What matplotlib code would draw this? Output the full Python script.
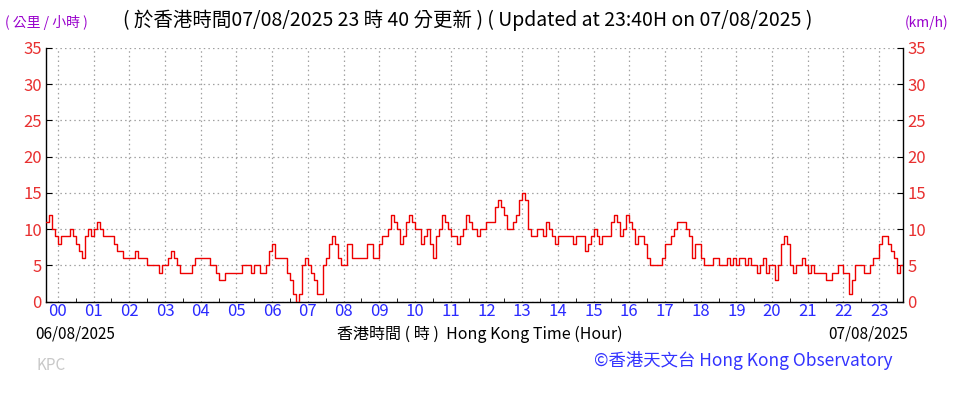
import numpy as np
import matplotlib
matplotlib.use("Agg")
import matplotlib.pyplot as plt
from matplotlib.ticker import MultipleLocator

# 10-minute mean wind speed (km/h), sampled every 5 minutes, from 23:40 (06/08) to 23:40 (07/08)
start_minutes = -20
step_minutes = 5
pre = [11, 12, 10, 9]
h00 = [8, 9, 9, 9, 10, 9, 8, 7, 6, 9, 10, 9]
h01 = [10, 11, 10, 9, 9, 9, 9, 8, 7, 7, 6, 6]
h02 = [6, 6, 7, 6, 6, 6, 5, 5, 5, 5, 4, 5]
h03 = [5, 6, 7, 6, 5, 4, 4, 4, 4, 5, 6, 6]
h04 = [6, 6, 6, 5, 5, 4, 3, 3, 4, 4, 4, 4]
h05 = [4, 4, 5, 5, 5, 4, 5, 5, 4, 4, 5, 7]
h06 = [8, 6, 6, 6, 6, 4, 3, 1, 0, 1, 5, 6]
h07 = [5, 4, 3, 1, 1, 5, 6, 8, 9, 8, 6, 5]
h08 = [5, 8, 8, 6, 6, 6, 6, 6, 8, 8, 6, 6]
h09 = [8, 9, 9, 10, 12, 11, 10, 8, 9, 11, 12, 11]
h10 = [10, 10, 8, 9, 10, 8, 6, 9, 10, 12, 11, 10]
h11 = [9, 9, 8, 9, 10, 12, 11, 10, 10, 9, 10, 10]
h12 = [11, 11, 11, 13, 14, 13, 12, 10, 10, 11, 12, 14]
h13 = [15, 14, 10, 9, 9, 10, 10, 9, 11, 10, 9, 8]
h14 = [9, 9, 9, 9, 9, 8, 9, 9, 9, 7, 8, 9]
h15 = [10, 9, 8, 9, 9, 9, 11, 12, 11, 9, 10, 12]
h16 = [11, 10, 8, 9, 9, 8, 6, 5, 5, 5, 5, 6]
h17 = [8, 8, 9, 10, 11, 11, 11, 10, 9, 6, 8, 8]
h18 = [6, 5, 5, 5, 6, 6, 5, 5, 5, 6, 5, 6]
h19 = [5, 6, 6, 5, 6, 5, 5, 4, 5, 6, 4, 5]
h20 = [5, 3, 5, 8, 9, 8, 5, 4, 5, 5, 6, 5]
h21 = [4, 5, 4, 4, 4, 4, 3, 3, 4, 4, 5, 5]
h22 = [4, 4, 1, 3, 5, 5, 5, 4, 4, 5, 6, 6]
h23 = [8, 9, 9, 8, 7, 6, 4, 5, 5]

speeds = np.array(pre + h00 + h01 + h02 + h03 + h04 + h05 + h06 + h07 + h08 + h09 + h10 + h11
                  + h12 + h13 + h14 + h15 + h16 + h17 + h18 + h19 + h20 + h21 + h22 + h23, dtype=float)
hours = (start_minutes + step_minutes * np.arange(len(speeds))) / 60.0

hour_labels = [f"{h:02d}" for h in range(24)]
y_ticks = [0, 5, 10, 15, 20, 25, 30, 35]

FAM = ["Noto Sans CJK TC", "DejaVu Sans"]
plt.rcParams["font.family"] = FAM

fig = plt.figure(figsize=(9.75, 3.95), dpi=100)
ax = fig.add_axes([46 / 975, 1 - 301.5 / 395, (903 - 46) / 975, (301.5 - 48) / 395])

ax.plot(hours, speeds, color="#ee0000", lw=1.0, drawstyle="steps-post", zorder=3)

ax.set_xlim(-20 / 60, 23 + 40 / 60)
ax.set_ylim(0, 35)

ax.set_xticks(range(24))
ax.set_xticklabels(hour_labels)
ax.xaxis.set_minor_locator(MultipleLocator(0.5))
ax.set_yticks(y_ticks)
ax.set_yticklabels([str(v) for v in y_ticks])

ax.grid(True, which="major", color="#a0a0a0", linestyle=(0, (1.2, 2.5)), lw=0.9)
ax.spines["top"].set_visible(False)
for s in ["left", "right", "bottom"]:
    ax.spines[s].set_color("black")
    ax.spines[s].set_linewidth(1.0)

ax.tick_params(axis="x", which="major", direction="in", length=0, labelsize=12,
               labelcolor="#2a2aff", pad=1)
ax.tick_params(axis="x", which="minor", direction="in", length=3, color="black")
ax.tick_params(axis="y", which="major", direction="in", length=4, labelsize=12,
               labelcolor="#e83030", left=True, right=True, labelleft=True, labelright=True, pad=3)

# Header texts
fig.text(5 / 975, 1 - 23 / 395, "( 公里 / 小時 )", color="#9900cc", fontsize=10,
         ha="left", va="center")
fig.text(905 / 975, 1 - 23 / 395, "(km/h)", color="#9900cc", fontsize=10,
         ha="left", va="center")
fig.text(123 / 975, 1 - 20 / 395,
         "( 於香港時間07/08/2025 23 時 40 分更新 ) ( Updated at 23:40H on 07/08/2025 )",
         color="black", fontsize=14, ha="left", va="center")

# Below-axis texts
fig.text(35 / 975, 1 - 334 / 395, "06/08/2025", color="black", fontsize=11,
         ha="left", va="center")
fig.text(480 / 975, 1 - 334 / 395, "香港時間 ( 時 )  Hong Kong Time (Hour)", color="black",
         fontsize=11.5, ha="center", va="center")
fig.text(908 / 975, 1 - 334 / 395, "07/08/2025", color="black", fontsize=11,
         ha="right", va="center")
fig.text(37 / 975, 1 - 366 / 395, "KPC", color="#c8c8c8", fontsize=11,
         ha="left", va="center")
fig.text(893 / 975, 1 - 361 / 395, "©香港天文台 Hong Kong Observatory", color="#3333ff",
         fontsize=12.5, ha="right", va="center")

fig.savefig("out.png", dpi=100)
